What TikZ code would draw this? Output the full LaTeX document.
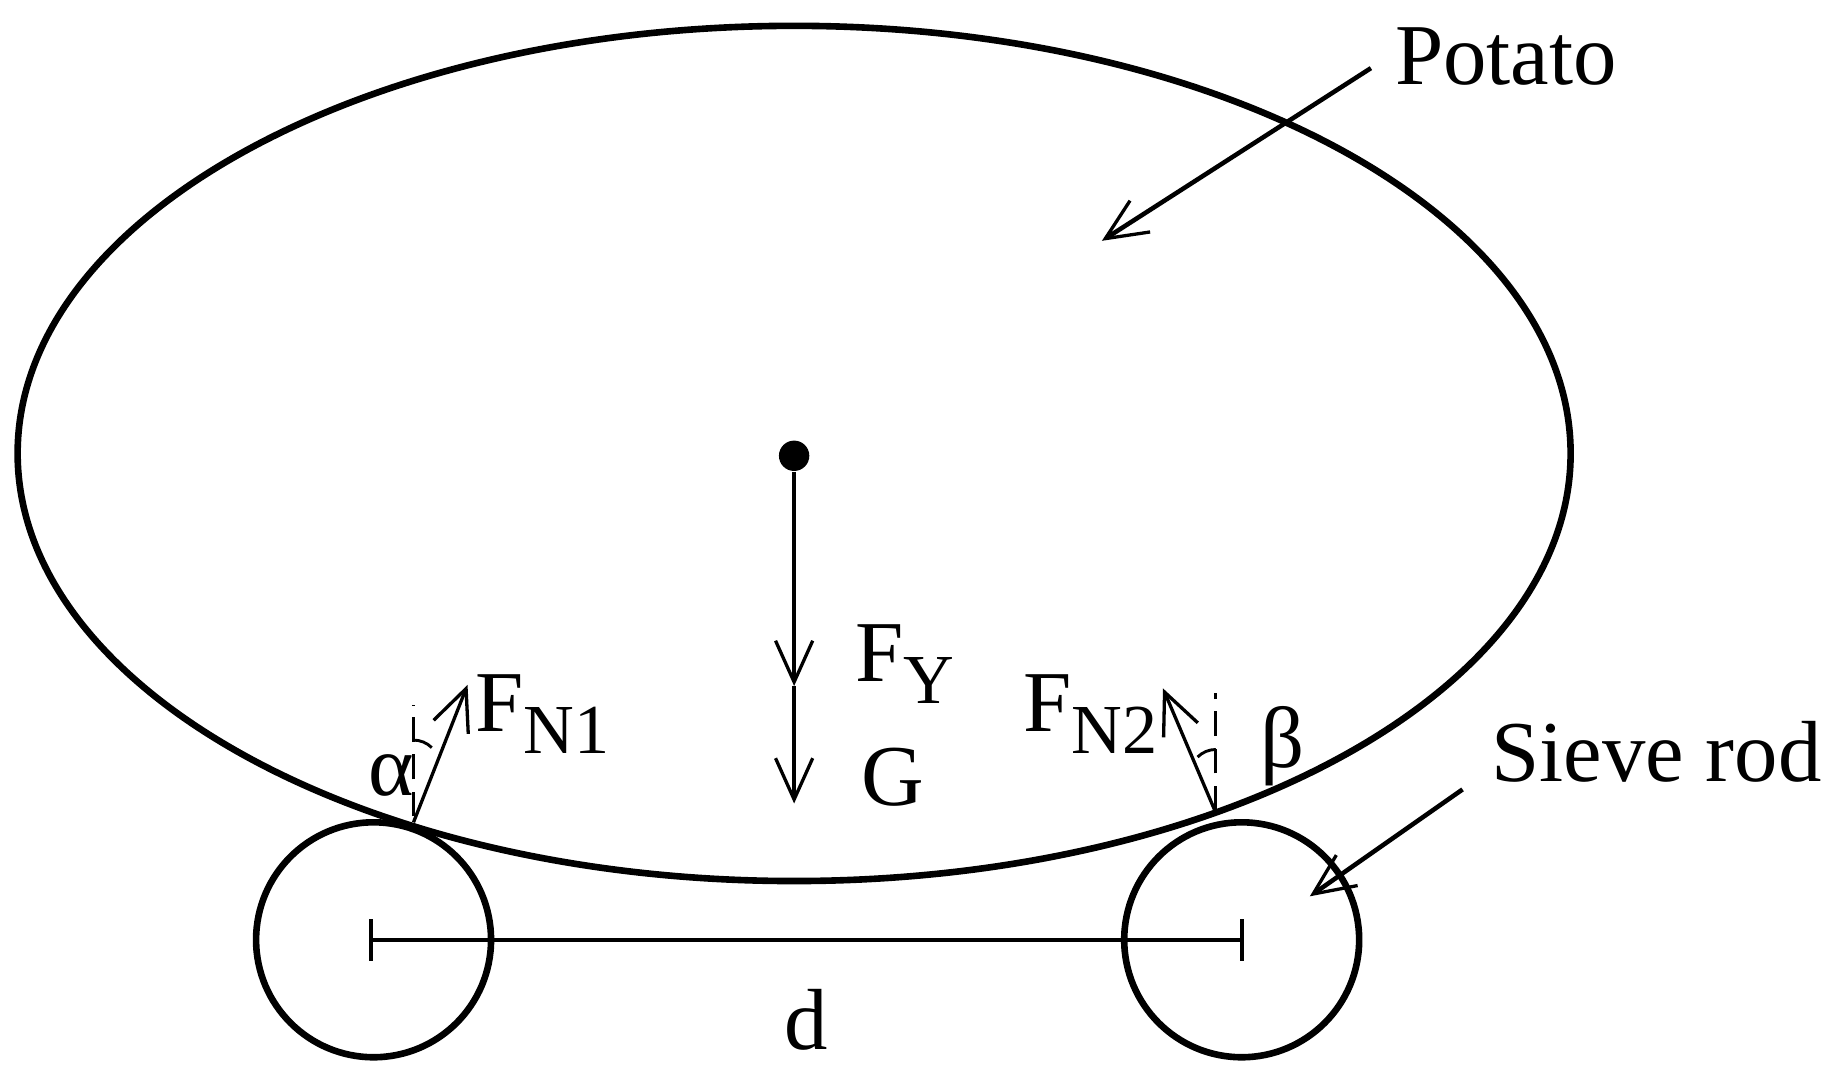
\documentclass[tikz,border=0pt]{standalone}
\usepackage{fontspec}
\setmainfont{Liberation Serif}
\usetikzlibrary{arrows.meta}
\tikzset{
    force/.style={line width=0.8pt,-{Straight Barb[length=10pt,width=9pt,line width=0.8pt]}},
    lbl/.style={inner sep=0pt,font=\fontsize{21}{25}\selectfont},
    body/.style={line width=1.6pt},
    vert/.style={dash pattern=on 6pt off 3pt,line width=0.7pt}
}
\newcommand{\sub}[1]{\raisebox{-0.55ex}{\fontsize{17}{20}\selectfont #1}}
\begin{document}
\begin{tikzpicture}[x=0.01cm,y=-0.01cm]
            \useasboundingbox (0,0) rectangle (1568,922);
            % potato and sieve rods
            \draw[body] (676,386) ellipse (661 and 364);
            \draw[body] (318,800) circle (100);
            \draw[body] (1057,800) circle (100);
            \node (cg) at (676,388)[circle,fill,inner sep=2.6pt]{};

            % distance between rods
            \coordinate (d1) at (316,800);
            \coordinate (d2) at (1057,800);
            \draw[line width=0.9pt] (d1) -- (d2);
            \foreach \p in {d1,d2}
                \draw[line width=0.9pt] ([yshift=-0.18cm]\p) -- ([yshift=0.18cm]\p);
            \node[lbl] (d) at (686,868) {d};

            % weight and vertical force
            \coordinate (fy) at (676,584);
            \coordinate (g) at (676,684);
            \draw[force] (cg) -- (fy);
            \draw[force] (fy) -- (g);
            \node[lbl] (fylabel) at (770,565) {F\sub{Y}};
            \node[lbl] (glabel) at (760,662) {G};

            % normal forces
            \coordinate (c1) at (352,700);
            \coordinate (n1) at (398,583);
            \draw[force] (c1) -- (n1);
            \draw[vert] (352,695) -- (352,600);
            \draw[line width=0.7pt] (352,630) arc[start angle=-90,end angle=-45,radius=22];
            \node[lbl] (alpha) at (333,660) {α};
            \node[lbl] (fn1) at (462,608) {F\sub{N1}};

            \coordinate (c2) at (1035,692);
            \coordinate (n2) at (990,586);
            \draw[force] (c2) -- (n2);
            \draw[vert] (1035,690) -- (1035,590);
            \draw[line width=0.7pt] (1035,638) arc[start angle=-90,end angle=-135,radius=22];
            \node[lbl] (beta) at (1092,635) {β};
            \node[lbl] (fn2) at (928,608) {F\sub{N2}};

            % callouts
            \node[lbl] (potato) at (1282,48) {Potato};
            \coordinate (pt) at (938,205);
            \draw[force,line width=1.1pt] (1167,58) -- (pt);
            \node[lbl] (rod) at (1410,640) {Sieve rod};
            \coordinate (rt) at (1115,763);
            \draw[force,line width=1.1pt] (1245,672) -- (rt);
\end{tikzpicture}
\end{document}
